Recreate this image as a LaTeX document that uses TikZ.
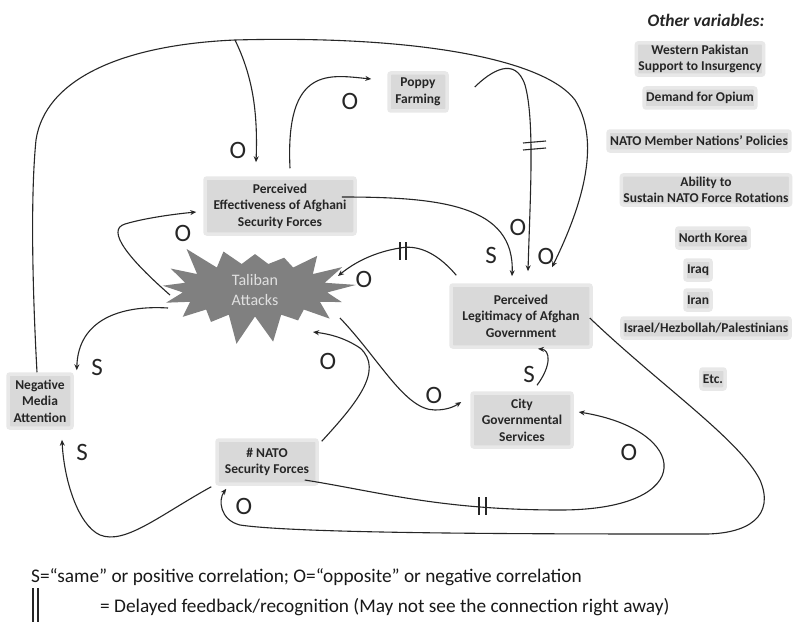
\documentclass[tikz,border=0pt]{standalone}
\usepackage{fontspec}
\setmainfont{Carlito}
\usetikzlibrary{shapes.symbols,arrows.meta}
\begin{document}
\begin{tikzpicture}[x=1pt,y=-1pt,
  box/.style={fill=black!15, draw=black!9, line width=3.5pt, rounded corners=2pt,
    align=center, text=black!85, inner sep=2pt,
    font=\bfseries\fontsize{13.5}{16.5}\selectfont},
  sidebox/.style={box, minimum height=20pt},
  lbl/.style={font=\fontsize{25}{25}\selectfont, text=black!85, inner sep=0pt},
  link/.style={line width=1.1pt, draw=black!85, -{Stealth[length=6pt,width=5pt]}},
  bar/.style={line width=1.1pt, draw=black!85},
  legend/.style={font=\fontsize{19.3}{22}\selectfont, text=black!90, inner sep=0pt, anchor=west}
]
\fill[white] (0,0) rectangle (794,623);
\useasboundingbox (0,0) rectangle (794,623);

% ---- main nodes ----
\node[box, minimum width=58pt, minimum height=38pt] (poppy) at (418,92) {Poppy\\Farming};
\node[box, minimum width=150pt, minimum height=56pt] (eff) at (280,206)
  {Perceived\\Effectiveness of Afghani\\Security Forces};
\node[starburst, starburst points=17, starburst point height=30pt, random starburst=3,
  fill=black!50, draw=none, minimum width=205pt, minimum height=112pt,
  text=black!12, align=center, font=\fontsize{16}{19.5}\selectfont] (tal) at (255,290)
  {Taliban\\Attacks};
\node[box, minimum width=140pt, minimum height=62pt] (leg) at (521,316)
  {Perceived\\Legitimacy of Afghan\\Government};
\node[box, minimum width=64pt, minimum height=54pt] (media) at (40,401)
  {Negative\\Media\\Attention};
\node[box, minimum width=100pt, minimum height=54pt] (city) at (522,420)
  {City\\Governmental\\Services};
\node[box, minimum width=100pt, minimum height=44pt] (nato) at (267,462)
  {\# NATO\\Security Forces};

% ---- other variables ----
\node[font=\bfseries\itshape\fontsize{17.5}{20}\selectfont, text=black!85] (ov) at (706,20) {Other variables:};
\node[sidebox] (wp) at (700,59) {Western Pakistan\\Support to Insurgency};
\node[sidebox] (dfo) at (700,98) {Demand for Opium};
\node[sidebox] (nmn) at (699,141) {NATO Member Nations’ Policies};
\node[sidebox] (ab) at (706,190) {Ability to\\Sustain NATO Force Rotations};
\node[sidebox] (nk) at (713,238) {North Korea};
\node[sidebox] (iq) at (698,270) {Iraq};
\node[sidebox] (ir) at (698,300) {Iran};
\node[sidebox] (isr) at (706,328) {Israel/Hezbollah/Palestinians};
\node[sidebox] (etc) at (713,379) {Etc.};

% ---- connectors ----
\coordinate (branch) at (235,40);
% media -> legitimacy (O)
\draw[link] ([xshift=-3pt]media.north) .. controls (33,300) and (30,200) .. (36,140)
  .. controls (45,80) and (120,45) .. (branch)
  .. controls (420,35) and (545,60) .. (575,100)
  .. controls (600,140) and (585,200) .. ([xshift=31pt,yshift=16pt]leg.north);
% media -> effectiveness (O)
\draw[link] (branch) .. controls (252,75) and (258,110) .. ([xshift=-24pt,yshift=14pt]eff.north);
% effectiveness -> poppy (O)
\draw[link] ([xshift=10pt,yshift=8pt]eff.north) .. controls (285,65) and (330,75) .. ([xshift=-16pt,yshift=13pt]poppy.west);
% poppy -> legitimacy (O, delayed)
\draw[link] ([xshift=26pt,yshift=5pt]poppy.east) .. controls (490,72) and (515,55) .. (525,85)
  .. controls (535,120) and (530,200) .. ([xshift=7pt,yshift=12pt]leg.north);
% effectiveness -> legitimacy (S)
\draw[link] ([xshift=-15pt,yshift=9pt]eff.east) .. controls (440,197) and (515,205) .. ([xshift=-9pt,yshift=7pt]leg.north);
% legitimacy -> taliban (O, delayed)
\draw[link] ([xshift=7pt,yshift=8pt]leg.north west) .. controls (435,250) and (415,245) .. (400,248)
  .. controls (375,252) and (355,262) .. ([xshift=83pt,yshift=14pt]tal.center);
% taliban -> effectiveness (O)
\draw[link] ([xshift=-85pt,yshift=-5pt]tal.center) .. controls (130,260) and (105,230) .. (125,224)
  .. controls (145,218) and (175,214) .. ([xshift=-7pt,yshift=-6pt]eff.west);
% taliban -> media (S)
\draw[link] ([xshift=-87pt,yshift=-18pt]tal.center) .. controls (120,305) and (78,320) .. ([xshift=3pt,yshift=2pt]media.north east);
% taliban -> city (O)
\draw[link] ([xshift=85pt,yshift=-28pt]tal.center) .. controls (380,360) and (405,410) .. (435,410)
  .. controls (448,410) and (455,406) .. ([xshift=-9pt,yshift=18pt]city.west);
% city -> legitimacy (S)
\draw[link] ([xshift=15pt,yshift=6pt]city.north) .. controls (552,365) and (550,350) .. ([xshift=17pt]leg.south);
% nato -> taliban (O)
\draw[link] ([xshift=3pt,yshift=-3pt]nato.north east) .. controls (355,405) and (385,370) .. (360,348)
  .. controls (345,338) and (330,334) .. ([xshift=58pt,yshift=-42pt]tal.center);
% nato -> media (S)
\draw[link] ([xshift=-4pt,yshift=-1pt]nato.south west) .. controls (160,515) and (125,545) .. (100,535)
  .. controls (78,525) and (64,480) .. ([xshift=22pt,yshift=-10pt]media.south);
% legitimacy -> nato (O)
\draw[link] ([xshift=-3pt,yshift=-2pt]leg.east) .. controls (660,385) and (740,440) .. (760,480)
  .. controls (775,515) and (750,535) .. (700,534)
  .. controls (550,534) and (300,534) .. (240,525)
  .. controls (220,520) and (218,500) .. ([xshift=11pt,yshift=-3pt]nato.south west);
% nato -> city (O, delayed)
\draw[link] ([xshift=-14pt,yshift=-18pt]nato.east) .. controls (380,492) and (440,510) .. (560,510)
  .. controls (700,510) and (690,430) .. ([xshift=5pt,yshift=8pt]city.east);

% ---- delay marks ----
\draw[bar] (523,143) -- (546,141);
\draw[bar] (523,150) -- (546,148);
\draw[bar] (400,242) -- (400,260);
\draw[bar] (406,242) -- (406,260);
\draw[bar] (479,497) -- (479,515);
\draw[bar] (486,497) -- (486,515);

% ---- S / O labels ----
\node[lbl] (l1) at (238,150) {O};
\node[lbl] (l2) at (350,101) {O};
\node[lbl] (l3) at (518,227) {O};
\node[lbl] (l4) at (491,255) {S};
\node[lbl] (l5) at (546,256) {O};
\node[lbl] (l6) at (183,233) {O};
\node[lbl] (l7) at (364,279) {O};
\node[lbl] (l8) at (97,367) {S};
\node[lbl] (l9) at (328,361) {O};
\node[lbl] (l10) at (434,395) {O};
\node[lbl] (l11) at (529,374) {S};
\node[lbl] (l12) at (629,452) {O};
\node[lbl] (l13) at (244,506) {O};
\node[lbl] (l14) at (82,452) {S};

% ---- legend ----
\node[legend] (leg1) at (31,577) {S=“same” or positive correlation; O=“opposite” or negative correlation};
\draw[bar] (33,588) -- (33,622);
\draw[bar] (38,588) -- (38,622);
\node[legend] (leg2) at (100,607) {= Delayed feedback/recognition (May not see the connection right away)};
\end{tikzpicture}
\end{document}
